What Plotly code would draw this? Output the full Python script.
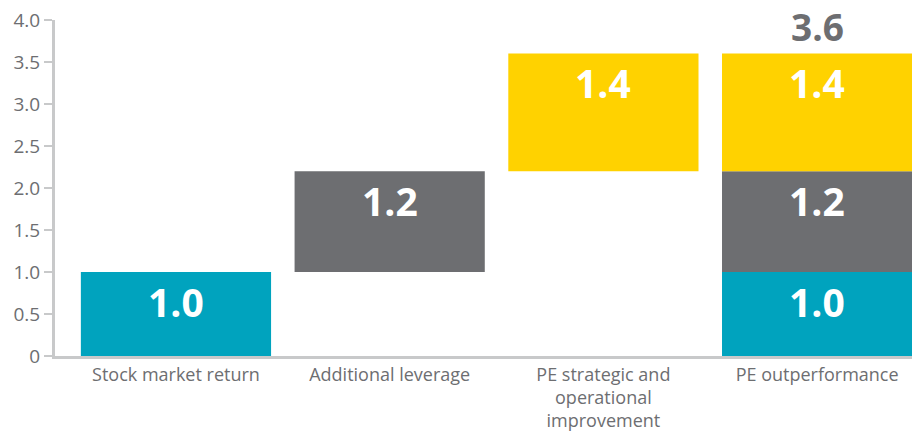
import plotly.graph_objects as go

# ── Data ──────────────────────────────────────────────────────────────────────
categories = ["Stock market return", "Additional leverage",
              "PE strategic and<br>operational<br>improvement", "PE outperformance"]
components = ["Stock market return", "Additional leverage", "PE strategic and operational improvement"]
values = [1.0, 1.2, 1.4]
colors = ["#00A3BE", "#6D6E71", "#FFD200"]
total = 3.6
y_ticks = [0, 0.5, 1.0, 1.5, 2.0, 2.5, 3.0, 3.5, 4.0]
y_tick_labels = ["0", "0.5", "1.0", "1.5", "2.0", "2.5", "3.0", "3.5", "4.0"]

GREY_TEXT = "#6D6E71"
AXIS_GREY = "#C8C9CA"

fig = go.Figure()
annotations = []

base = 0.0
last_idx = len(categories) - 1
for i, (name, val, col) in enumerate(zip(components, values, colors)):
    xs = [i, last_idx]
    fig.add_trace(go.Bar(
        x=xs, y=[val, val], base=[base, base], name=name,
        marker=dict(color=col, line=dict(width=0)), width=0.89,
        showlegend=False, hoverinfo="skip",
    ))
    for x in xs:
        annotations.append(dict(
            x=x, y=base + val, xref="x", yref="y", text=f"{val:.1f}",
            showarrow=False, yanchor="middle", yshift=-29,
            font=dict(color="#FFFFFF", size=39, family="Open Sans", weight="bold"),
        ))
    base += val

annotations.append(dict(
    x=last_idx, y=total, xref="x", yref="y", text=f"{total:.1f}",
    showarrow=False, yanchor="middle", yshift=27,
    font=dict(color=GREY_TEXT, size=37, family="Open Sans", weight="bold"),
))

fig.update_layout(
    width=912, height=432,
    margin=dict(l=55, r=0, t=20, b=76),
    paper_bgcolor="#FFFFFF", plot_bgcolor="#FFFFFF",
    barmode="overlay",
    font=dict(family="Open Sans", color=GREY_TEXT, size=18),
    annotations=annotations,
    xaxis=dict(
        range=[-0.566, 3.444], tickvals=list(range(len(categories))), ticktext=categories,
        showgrid=False, zeroline=False, showline=True, linecolor=AXIS_GREY, linewidth=3,
        ticks="", tickfont=dict(size=18, color=GREY_TEXT), fixedrange=True,
    ),
    yaxis=dict(
        range=[0, 4.0], tickvals=y_ticks, ticktext=y_tick_labels,
        showgrid=False, zeroline=False, showline=True, linecolor=AXIS_GREY, linewidth=3,
        ticks="outside", ticklen=8, tickwidth=2, tickcolor=AXIS_GREY,
        tickfont=dict(size=19, color=GREY_TEXT), fixedrange=True,
    ),
)

# drop the default 8px body margin so the figure sits flush in the window
fig.write_html("out.html", config={"displayModeBar": False},
               post_script="document.body.style.margin='0';")
